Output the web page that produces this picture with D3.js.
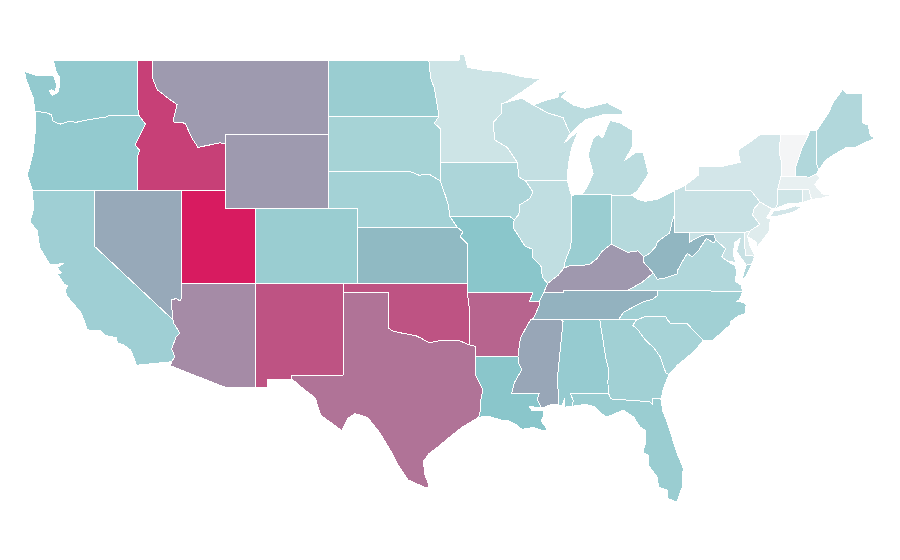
<!DOCTYPE html>
<html>
<head>
<meta charset="utf-8">
<script src="https://cdn.jsdelivr.net/npm/d3@7"></script>
<style>
html, body { margin: 0; padding: 0; background: #fff; }
.state { stroke: #fff; stroke-width: 1px; shape-rendering: crispEdges; stroke-linejoin: round; }
</style>
</head>
<body>
<svg id="map" width="900" height="560"></svg>
<script>
// values, same order as stateRings
const stateNames = ["WA","OR","CA","NV","ID","MT","WY","UT","AZ","CO","NM","ND","SD","NE","KS","OK","TX","MN","IA","MO","AR","LA","WI","IL","MI","IN","OH","KY","TN","MS","AL","GA","FL","SC","NC","VA","WV","PA","NY","NJ","DE","MD","CT","RI","MA","VT","NH","ME"];
const stateValues = [27.5,27.5,24,42,85,48,48,100,54,25.5,77,25.5,22,22.6,35,77,64,11,20.4,30,70,30,14,14.7,16,25.5,17.8,49,38,43,26.6,23.5,25.5,21.8,23.5,19,36.5,12.5,9.3,6,6,12.5,10.5,6,3.4,0,19,19];

// lon/lat rings
const WA = [[[-117.03,49],[-122.76,49],[-122.65,48.6],[-122.55,48.3],[-122.35,48.1],[-122.35,47.6],[-122.45,47.25],[-122.85,47.1],[-123.05,47.35],[-122.9,47.4],[-122.65,47.3],[-122.55,47.55],[-122.6,47.85],[-122.75,48.14],[-123.1,48.14],[-123.9,48.16],[-124.73,48.38],[-124.6,47.9],[-124.3,47.3],[-124.1,46.9],[-124.05,46.3],[-124.0,46.25],[-123.2,46.15],[-122.9,46.05],[-122.78,45.7],[-122.3,45.55],[-121.7,45.7],[-121.2,45.65],[-120.6,45.75],[-119.9,45.85],[-119.2,45.93],[-118.98,46.0],[-116.92,46.0],[-117.04,46.4]]];
const OR = [[[-124.0,46.25],[-123.2,46.15],[-122.9,46.05],[-122.78,45.7],[-122.3,45.55],[-121.7,45.7],[-121.2,45.65],[-120.6,45.75],[-119.9,45.85],[-119.2,45.93],[-118.98,46.0],[-116.92,46.0],[-116.5,45.55],[-116.85,45.0],[-117.2,44.45],[-117.03,44.25],[-116.9,44.15],[-117.03,43.83],[-117.03,42],[-124.2,42],[-124.55,42.84],[-124.4,43.2],[-124.15,44],[-124.05,44.7],[-123.95,45.5]]];
const CA = [[[-124.2,42],[-120,42],[-120,39],[-114.63,35.0],[-114.57,34.8],[-114.15,34.27],[-114.43,34.05],[-114.72,33.4],[-114.5,33.0],[-114.72,32.72],[-117.12,32.53],[-117.25,32.85],[-117.5,33.35],[-118.0,33.65],[-118.4,33.75],[-118.5,34.03],[-119.2,34.15],[-119.6,34.42],[-120.47,34.45],[-120.65,34.9],[-120.9,35.4],[-121.85,36.3],[-121.95,36.6],[-121.8,36.85],[-122.05,36.95],[-122.5,37.5],[-122.2,37.55],[-122.5,37.82],[-122.1,38.05],[-122.55,38.0],[-123.0,38.0],[-123.7,38.9],[-123.85,39.8],[-124.35,40.3],[-124.1,41.0]]];
const NV = [[[-120,42],[-114.04,42],[-114.04,36.2],[-114.15,36.02],[-114.4,36.15],[-114.72,36.1],[-114.72,35.75],[-114.63,35.0],[-120,39]]];
const ID = [[[-117.03,49],[-116.05,49],[-116.05,48.1],[-115.7,47.4],[-114.97,46.95],[-114.35,46.6],[-114.63,45.67],[-113.8,45.6],[-113.34,44.8],[-112.93,44.3],[-111.43,44.54],[-111.05,44.5],[-111.05,42],[-117.03,42],[-117.03,43.83],[-116.9,44.15],[-117.03,44.25],[-117.2,44.45],[-116.85,45.0],[-116.5,45.55],[-116.92,46.0],[-117.04,46.4]]];
const MT = [[[-116.05,49],[-104.05,49],[-104.05,45],[-111.05,45],[-111.05,44.5],[-111.43,44.54],[-112.93,44.3],[-113.34,44.8],[-113.8,45.6],[-114.63,45.67],[-114.35,46.6],[-114.97,46.95],[-115.7,47.4],[-116.05,48.1]]];
const WY = [[[-111.05,45],[-104.05,45],[-104.05,41],[-111.05,41]]];
const UT = [[[-114.05,42],[-111.05,42],[-111.05,41],[-109.05,41],[-109.05,37],[-114.05,37]]];
const AZ = [[[-114.05,37],[-109.05,37],[-109.05,31.33],[-111.07,31.33],[-114.8,32.5],[-114.72,32.72],[-114.5,33.0],[-114.72,33.4],[-114.43,34.05],[-114.15,34.27],[-114.57,34.8],[-114.63,35.0],[-114.72,35.75],[-114.72,36.1],[-114.4,36.15],[-114.15,36.02],[-114.04,36.2]]];
const CO = [[[-109.05,41],[-102.05,41],[-102.05,37],[-109.05,37]]];
const NM = [[[-109.05,37],[-103.0,37],[-103.05,32],[-106.6,32],[-106.53,31.78],[-108.2,31.78],[-108.2,31.33],[-109.05,31.33]]];
const ND = [[[-104.05,49],[-97.23,49],[-97.1,48],[-96.85,47.5],[-96.6,46.3],[-96.56,45.94],[-104.05,45.94]]];
const SD = [[[-104.05,45.94],[-96.56,45.94],[-96.85,45.6],[-96.45,45.3],[-96.45,43.5],[-96.45,42.5],[-97.2,42.85],[-97.9,42.8],[-98.5,43.0],[-104.05,43]]];
const NE = [[[-104.05,43],[-98.5,43],[-97.9,42.8],[-97.2,42.85],[-96.45,42.5],[-96.1,41.7],[-95.9,41.2],[-95.8,40.6],[-95.3,40],[-102.05,40],[-102.05,41],[-104.05,41]]];
const KS = [[[-102.05,40],[-95.3,40],[-94.9,39.75],[-95.1,39.5],[-94.6,39.1],[-94.62,37],[-102.05,37]]];
const OK = [[[-103.0,37],[-94.62,37],[-94.62,36.5],[-94.43,35.4],[-94.48,33.64],[-95.2,33.88],[-95.8,33.85],[-96.6,33.85],[-97.2,33.75],[-97.7,33.98],[-98.1,34.13],[-99.2,34.3],[-99.7,34.4],[-100,34.56],[-100,36.5],[-103.0,36.5]]];
const TX = [[[-103.0,36.5],[-100,36.5],[-100,34.56],[-99.7,34.4],[-99.2,34.3],[-98.1,34.13],[-97.7,33.98],[-97.2,33.75],[-96.6,33.85],[-95.8,33.85],[-95.2,33.88],[-94.48,33.64],[-94.04,33.55],[-94.04,33.02],[-94.04,32.0],[-93.55,31.2],[-93.7,30.6],[-93.7,30.1],[-93.85,29.7],[-94.95,29.17],[-95.8,28.63],[-96.6,28.1],[-97.25,27.7],[-97.6,27.3],[-97.5,26.6],[-97.2,25.95],[-97.35,25.85],[-98.65,26.3],[-99.4,27.2],[-99.65,27.65],[-100.55,28.85],[-101.4,29.7],[-102.25,29.9],[-102.7,29.67],[-103.15,28.98],[-104.6,29.83],[-104.95,30.75],[-106.0,31.4],[-106.53,31.78],[-106.6,32],[-103.05,32]]];
const MN = [[[-97.23,49],[-95.15,49],[-95.15,49.3],[-94.8,49.3],[-94.6,48.6],[-93.5,48.45],[-92.2,48.35],[-90.9,48.1],[-89.65,47.98],[-90.9,47.28],[-92.05,46.7],[-92.3,46.66],[-92.3,46.1],[-92.85,45.65],[-92.75,44.7],[-91.9,44.3],[-91.22,43.5],[-96.45,43.5],[-96.45,45.3],[-96.85,45.6],[-96.56,45.94],[-96.6,46.3],[-96.85,47.5],[-97.1,48]]];
const IA = [[[-96.45,43.5],[-91.22,43.5],[-91.1,42.7],[-90.65,42.5],[-90.15,41.9],[-90.35,41.55],[-91.05,41.2],[-91.1,40.7],[-91.42,40.38],[-91.73,40.6],[-95.8,40.6],[-95.9,41.2],[-96.1,41.7],[-96.45,42.5]]];
const MO = [[[-95.8,40.6],[-91.73,40.6],[-91.42,40.38],[-91.5,40.0],[-91.1,39.5],[-90.7,39.0],[-90.15,38.8],[-90.2,38.4],[-89.6,37.9],[-89.5,37.3],[-89.15,36.98],[-89.4,36.5],[-89.7,36.0],[-90.37,36.0],[-90.15,36.5],[-94.62,36.5],[-94.62,37],[-94.6,39.1],[-95.1,39.5],[-94.9,39.75],[-95.3,40]]];
const AR = [[[-94.62,36.5],[-90.15,36.5],[-90.37,36.0],[-89.7,36.0],[-89.7,35.8],[-90.1,35.1],[-90.3,35.0],[-90.6,34.6],[-91.0,34.0],[-91.17,33.0],[-94.04,33.02],[-94.04,33.55],[-94.48,33.64],[-94.43,35.4]]];
const LA = [[[-94.04,33.02],[-91.17,33.0],[-91.1,32.6],[-90.9,32.3],[-91.4,31.6],[-91.6,31.0],[-89.73,31.0],[-89.85,30.65],[-89.55,30.2],[-90.4,30.3],[-90.2,30.05],[-89.45,30.05],[-89.4,29.8],[-89.6,29.5],[-89.15,29.05],[-89.4,28.95],[-90.1,29.15],[-90.9,29.05],[-91.3,29.3],[-91.8,29.5],[-92.3,29.55],[-93.2,29.77],[-93.85,29.7],[-93.7,30.1],[-93.7,30.6],[-93.55,31.2],[-94.04,32.0]]];
const WI = [[[-92.05,46.7],[-90.9,46.95],[-90.14,46.58],[-89.1,46.14],[-88.1,45.9],[-87.8,45.35],[-87.6,45.05],[-88.0,44.55],[-87.05,45.2],[-87.5,44.3],[-87.75,43.35],[-87.8,42.49],[-90.65,42.5],[-91.1,42.7],[-91.22,43.5],[-91.9,44.3],[-92.75,44.7],[-92.85,45.65],[-92.3,46.1],[-92.3,46.66]]];
const IL = [[[-90.65,42.5],[-87.8,42.49],[-87.53,41.7],[-87.53,39.35],[-87.6,38.9],[-87.95,38.2],[-88.05,37.8],[-88.45,37.4],[-89.15,36.98],[-89.5,37.3],[-89.6,37.9],[-90.2,38.4],[-90.15,38.8],[-90.7,39.0],[-91.1,39.5],[-91.5,40.0],[-91.42,40.38],[-91.1,40.7],[-91.05,41.2],[-90.35,41.55],[-90.15,41.9]]];
const MI = [
  [[-86.82,41.76],[-84.8,41.76],[-84.8,41.7],[-83.45,41.73],[-83.05,41.95],[-82.5,42.6],[-82.3,42.9],[-82.65,44.0],[-83.1,44.05],[-83.9,43.6],[-83.4,44.3],[-83.35,45.2],[-84.2,45.6],[-84.9,45.75],[-85.1,45.4],[-85.4,44.8],[-85.7,45.0],[-86.05,44.8],[-86.4,43.9],[-86.05,42.9],[-86.5,42.1]],
  [[-90.14,46.58],[-89.2,46.85],[-88.44,47.0],[-88.44,47.2],[-87.75,47.4],[-88.2,47.0],[-87.4,46.58],[-86.6,46.4],[-85.1,46.7],[-84.1,46.3],[-84,46.05],[-85.4,46.05],[-86.6,45.77],[-87.4,45.2],[-87.6,45.05],[-87.8,45.35],[-88.1,45.9],[-89.1,46.14]],
  [[-89.1,47.85],[-88.6,48.1],[-88.9,47.95]],
  [[-83.85,46.0],[-83.5,46.05],[-83.6,45.95]]
];
const IN = [[[-87.53,41.7],[-87.2,41.76],[-86.82,41.76],[-84.8,41.76],[-84.82,39.1],[-85.45,38.7],[-85.8,38.3],[-86.3,38.0],[-86.8,37.95],[-87.6,37.95],[-88.05,37.8],[-87.95,38.2],[-87.6,38.9],[-87.53,39.35]]];
const OH = [[[-84.8,41.7],[-83.45,41.73],[-83.0,41.5],[-82.5,41.4],[-81.7,41.5],[-80.52,41.98],[-80.52,40.64],[-80.65,40.4],[-80.85,39.7],[-81.7,39.2],[-81.75,39.0],[-82.2,38.6],[-82.6,38.42],[-83.0,38.73],[-83.7,38.65],[-84.2,38.85],[-84.82,39.1]]];
const KY = [[[-89.4,36.5],[-89.15,36.98],[-88.45,37.4],[-88.05,37.8],[-87.6,37.95],[-86.8,37.95],[-86.3,38.0],[-85.8,38.3],[-85.45,38.7],[-84.82,39.1],[-84.2,38.85],[-83.7,38.65],[-83.0,38.73],[-82.6,38.42],[-82.6,38.1],[-81.97,37.54],[-82.7,37.05],[-83.68,36.6],[-88.07,36.6],[-88.07,36.5]]];
const TN = [[[-90.3,35.0],[-90.1,35.1],[-89.7,35.8],[-89.7,36.0],[-89.4,36.5],[-88.07,36.5],[-88.07,36.6],[-83.68,36.6],[-81.68,36.59],[-81.7,36.3],[-82.05,36.1],[-82.6,36.0],[-83.2,35.75],[-84.0,35.4],[-84.32,35.0]]];
const MS = [[[-90.3,35],[-88.2,35],[-88.1,34.9],[-88.47,31.9],[-88.4,30.37],[-88.9,30.4],[-89.55,30.2],[-89.85,30.65],[-89.73,31],[-91.6,31],[-91.4,31.6],[-90.9,32.3],[-91.1,32.6],[-91.17,33],[-91,34],[-90.6,34.6]]];
const AL = [[[-88.2,35],[-85.6,35],[-85.18,32.87],[-85.0,32.3],[-85.05,31.6],[-85.0,31.0],[-87.6,31.0],[-87.4,30.6],[-87.5,30.3],[-88.0,30.25],[-88.0,30.7],[-88.15,30.35],[-88.4,30.37],[-88.47,31.9],[-88.1,34.9]]];
const GA = [[[-85.6,35],[-83.1,35],[-83.35,34.7],[-83.0,34.45],[-82.55,33.95],[-81.9,33.45],[-81.5,33.0],[-81.1,32.1],[-80.9,32.03],[-81.3,31.2],[-81.4,30.8],[-81.45,30.7],[-82.05,30.75],[-82.0,30.4],[-82.2,30.55],[-84.86,30.7],[-85.0,31],[-85.05,31.6],[-85,32.3],[-85.18,32.87]]];
const FL = [[[-87.6,31],[-85,31],[-84.86,30.7],[-82.2,30.55],[-82,30.4],[-82.05,30.75],[-81.45,30.7],[-81.3,30.0],[-81.0,29.4],[-80.35,27.76],[-79.93,26.95],[-80,25.9],[-80.35,25.1],[-81,25.3],[-81,25.75],[-81.6,25.9],[-81.7,26.45],[-82.3,27.1],[-82.3,27.65],[-82.66,27.8],[-82.5,28.3],[-82.5,29.0],[-82.86,29.17],[-83.3,29.72],[-84.0,30.1],[-85.1,29.72],[-85.4,29.85],[-86.0,30.3],[-86.6,30.4],[-87.5,30.3],[-87.4,30.6]]];
const SC = [[[-83.1,35],[-82.4,35.2],[-81.05,35.15],[-81.05,35.05],[-80.8,34.82],[-79.67,34.8],[-78.55,33.86],[-79.3,33.2],[-80.3,32.55],[-80.9,32.03],[-81.1,32.1],[-81.5,33],[-81.9,33.45],[-82.55,33.95],[-83,34.45],[-83.35,34.7]]];
const NC = [[[-84.32,35],[-84,35.4],[-83.2,35.75],[-82.6,36],[-82.05,36.1],[-81.7,36.3],[-81.68,36.59],[-75.87,36.55],[-76.1,36.1],[-76.3,36.0],[-75.85,35.95],[-75.65,35.8],[-75.7,35.35],[-76.2,35.2],[-76.7,34.9],[-76.7,34.75],[-77.75,34],[-77.95,33.85],[-78.55,33.86],[-79.67,34.8],[-80.8,34.82],[-81.05,35.05],[-81.05,35.15],[-82.4,35.2],[-83.1,35]]];
const VA = [
  [[-83.68,36.6],[-82.7,37.05],[-81.97,37.54],[-81.68,37.2],[-81.25,37.25],[-80.3,37.5],[-80.3,37.7],[-79.95,38.2],[-79.65,38.58],[-79.3,38.42],[-78.87,38.77],[-78.35,39.4],[-77.83,39.14],[-77.72,39.32],[-77.05,38.85],[-77.3,38.4],[-76.95,38.2],[-76.35,37.9],[-76.3,37.5],[-76.4,37.1],[-76.0,36.9],[-75.87,36.55],[-81.68,36.59]],
  [[-75.95,37.15],[-75.65,37.95],[-75.25,38.03],[-75.7,37.3]]
];
const WV = [[[-80.52,40.64],[-80.52,39.72],[-79.48,39.72],[-79.48,39.2],[-78.95,39.45],[-78.4,39.62],[-77.83,39.6],[-77.72,39.32],[-77.83,39.14],[-78.35,39.4],[-78.87,38.77],[-79.3,38.42],[-79.65,38.58],[-79.95,38.2],[-80.3,37.7],[-80.3,37.5],[-81.25,37.25],[-81.68,37.2],[-81.97,37.54],[-82.6,38.1],[-82.6,38.42],[-82.2,38.6],[-81.75,39],[-81.7,39.2],[-80.85,39.7],[-80.65,40.4]]];
const PA = [[[-80.52,41.98],[-79.76,42.27],[-79.76,42],[-75.35,42],[-74.7,41.36],[-75.13,40.98],[-75.2,40.65],[-74.72,40.15],[-75.4,39.8],[-75.78,39.72],[-80.52,39.72]]];
const NY = [
  [[-79.76,42.27],[-78.9,42.8],[-78.9,43.25],[-77.4,43.25],[-76.05,43.5],[-76.2,44.15],[-74.9,44.85],[-74.7,45],[-73.3,45],[-73.4,44.0],[-73.25,43.55],[-73.27,42.75],[-73.5,42.05],[-73.5,41.3],[-73.65,41.0],[-73.9,40.99],[-74.7,41.36],[-75.35,42],[-79.76,42]],
  [[-74.05,40.6],[-73.75,40.87],[-73.0,40.97],[-72.3,41.15],[-71.87,41.07],[-72.5,40.8],[-73.5,40.6]]
];
const NJ = [[[-74.7,41.36],[-73.9,40.99],[-74.25,40.5],[-74.0,40.45],[-74.1,39.75],[-74.9,38.93],[-74.95,39.2],[-75.55,39.5],[-75.4,39.8],[-74.72,40.15],[-75.2,40.65],[-75.13,40.98]]];
const DE = [[[-75.78,39.72],[-75.4,39.8],[-75.55,39.5],[-75.4,39.05],[-75.05,38.45],[-75.7,38.46]]];
const MD = [[[-79.48,39.72],[-75.78,39.72],[-75.7,38.46],[-75.05,38.45],[-75.25,38.03],[-75.65,37.95],[-75.85,38.2],[-76.3,38.7],[-76.05,39.4],[-76.45,39.15],[-76.5,38.5],[-76.35,38.1],[-76.95,38.2],[-77.3,38.4],[-77.05,38.85],[-77.72,39.32],[-77.83,39.6],[-78.4,39.62],[-78.95,39.45],[-79.48,39.2]]];
const CT = [[[-73.5,42.05],[-71.8,42.02],[-71.85,41.32],[-72.9,41.25],[-73.65,41.0],[-73.5,41.3]]];
const RI = [[[-71.8,42.02],[-71.38,42.02],[-71.2,41.5],[-71.85,41.32]]];
const MA = [[[-73.27,42.75],[-71.3,42.7],[-70.85,42.87],[-70.6,42.65],[-71.0,42.3],[-70.6,41.95],[-70.5,41.8],[-70.0,41.75],[-70.2,42.07],[-69.95,41.7],[-70.6,41.55],[-71.2,41.5],[-71.38,42.02],[-71.8,42.02],[-73.5,42.05]]];
const VT = [[[-73.3,45],[-71.4,45],[-71.85,44.25],[-72.3,43.2],[-72.3,42.72],[-73.27,42.75],[-73.25,43.55],[-73.4,44]]];
const NH = [[[-71.4,45],[-71.3,45.2],[-70.85,45.2],[-70.85,43.4],[-70.7,43.07],[-70.85,42.87],[-71.3,42.7],[-72.3,42.72],[-72.3,43.2],[-71.85,44.25]]];
const ME = [[[-70.85,45.2],[-70.05,46.15],[-69.7,46.75],[-69.1,47.4],[-68.8,47.2],[-67.75,47.2],[-67.7,45.6],[-67.35,45.5],[-67.2,44.95],[-66.9,44.8],[-68.2,44.3],[-68.8,44.3],[-69.7,43.9],[-70.25,43.6],[-70.7,43.07],[-70.85,43.4]]];

const stateRings = [WA,OR,CA,NV,ID,MT,WY,UT,AZ,CO,NM,ND,SD,NE,KS,OK,TX,MN,IA,MO,AR,LA,WI,IL,MI,IN,OH,KY,TN,MS,AL,GA,FL,SC,NC,VA,WV,PA,NY,NJ,DE,MD,CT,RI,MA,VT,NH,ME];

const colorStops = [0, 30, 100];
const colorRange = ["#f4f5f6", "#8ac6cb", "#d81b60"];

const x = d3.scaleLinear().domain([-109.05, -66.95]).range([255, 874]);
const y = d3.scaleLinear().domain([49, 37, 25.1]).range([60, 283, 502]);
const color = d3.scaleLinear().domain(colorStops).range(colorRange);

const ringPath = d3.line().x(d => x(d[0])).y(d => y(d[1]));

d3.select("#map").selectAll("path")
    .data(stateNames)
    .join("path")
    .attr("class", "state")
    .attr("id", d => d)
    .attr("fill", (d, i) => color(stateValues[i]))
    .attr("d", (d, i) => stateRings[i].map(r => ringPath(r) + "Z").join(""));
</script>
</body>
</html>
